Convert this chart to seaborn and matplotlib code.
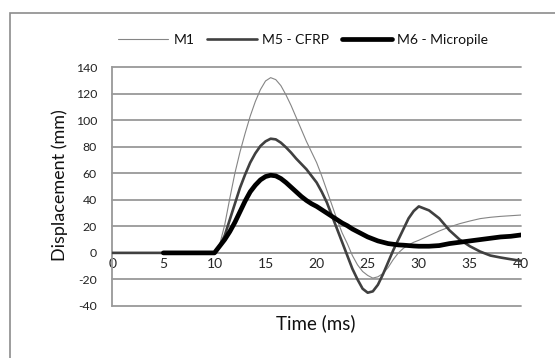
import numpy as np
import pandas as pd
import matplotlib
matplotlib.use("Agg")
import matplotlib.pyplot as plt
import seaborn as sns
from matplotlib.patches import Rectangle

sns.set_style("white")
plt.rcParams['font.family'] = ['Lato', 'DejaVu Sans']

time_ms = [0, 1, 2, 3, 4, 5, 6, 7, 8, 9,
           10, 10.5, 11, 11.5, 12, 12.5, 13, 13.5, 14, 14.5,
           15, 15.5, 16, 16.5, 17, 17.5, 18, 18.5, 19, 19.5,
           20, 20.5, 21, 21.5, 22, 22.5, 23, 23.5, 24, 24.5,
           25, 25.5, 26, 26.5, 27, 27.5, 28, 28.5, 29, 29.5,
           30, 31, 32, 33, 34, 35, 36, 37, 38, 39, 40]
m1 = [0, 0, 0, 0, 0, 0, 0, 0, 0, 0,
      0, 6, 21, 41, 60, 76, 90, 103, 114, 123,
      129.5, 132, 130.5, 126, 119, 111, 102, 93, 84, 76,
      68, 58, 47, 36, 25, 15, 7, -2, -9, -14,
      -17, -19, -18, -15.5, -11, -5, 0, 3.5, 6, 8,
      9.5, 13, 16.5, 19.5, 22, 24, 25.8, 26.8, 27.5, 28, 28.5]
m5 = [0, 0, 0, 0, 0, 0, 0, 0, 0, 0,
      0, 5, 13, 25, 37, 49, 59, 68, 75, 80.5,
      84, 86, 85.5, 83, 79.5, 75.5, 71, 67, 63, 58,
      53, 46, 38, 28, 18, 8, -2, -12, -20, -27,
      -30, -29, -24, -16, -7, 2, 10, 18, 26, 31.5,
      35, 32, 26, 17, 10, 5, 1, -2, -3.5, -4.8, -6]
time_m6 = time_ms[5:]
m6 = [0, 0, 0, 0, 0,
      0, 5, 10, 16, 23, 31, 39, 46, 51, 55,
      57.5, 58.5, 58, 56, 53, 49.5, 46, 42.5, 39.5, 37,
      35, 32.5, 30, 27.5, 25, 22.5, 20.5, 18, 16, 14,
      12, 10.5, 9, 8, 7, 6.5, 6, 5.8, 5.5, 5.2,
      5, 5, 5.5, 7, 8, 9, 10, 11, 12, 12.5, 13.5]

series_names = ["M1", "M5 - CFRP", "M6 - Micropile"]
x_ticks = [0, 5, 10, 15, 20, 25, 30, 35, 40]
y_ticks = [-40, -20, 0, 20, 40, 60, 80, 100, 120, 140]

fig = plt.figure(figsize=(5.55, 3.58), dpi=100)
ax = fig.add_axes([0.2023, 0.1453, 0.9387 - 0.2023, 0.8128 - 0.1453])

grid_c = "#999999"
styles = [("#858585", 0.8), ("#404040", 1.9), ("#000000", 3.4)]
for (t, v, name), (c, lw) in zip(
        [(time_ms, m1, series_names[0]), (time_ms, m5, series_names[1]), (time_m6, m6, series_names[2])],
        styles):
    df = pd.DataFrame({"t": t, "v": v})
    sns.lineplot(data=df, x="t", y="v", ax=ax, color=c, linewidth=lw, label=name, zorder=3)
for ln in ax.get_lines():
    ln.set_solid_joinstyle('round')
    ln.set_solid_capstyle('round')

ax.set_xlim(0, 40)
ax.set_ylim(-40, 140)
ax.set_xticks(x_ticks)
ax.set_yticks(y_ticks)
ax.set_xticklabels([str(x) for x in x_ticks], fontweight='heavy', fontsize=9, color='#111111')
ax.set_yticklabels([str(y) for y in y_ticks], fontsize=8.8, color='#222222')
ax.yaxis.grid(True, color=grid_c, linewidth=1.3)
for gl in ax.get_ygridlines():
    gl.set_clip_on(False)
ax.xaxis.grid(False)

for s in ["top", "right"]:
    ax.spines[s].set_visible(False)
ax.spines["bottom"].set_position(("data", 0))
ax.spines["bottom"].set_color(grid_c)
ax.spines["bottom"].set_linewidth(1.3)
ax.spines["left"].set_color(grid_c)
ax.spines["left"].set_linewidth(1.3)
ax.tick_params(axis='x', length=0, pad=4)
ax.tick_params(axis='y', length=0, pad=11)

ax.set_xlabel("")
ax.set_ylabel("")
fig.text(0.569, 0.098, "Time (ms)", ha='center', va='center', fontsize=13.5, color='#111111')
fig.text(0.108, 0.483, "Displacement (mm)", ha='center', va='center', rotation=90,
         fontsize=13, color='#111111')

leg = ax.legend(loc='center', bbox_to_anchor=(0.546, 0.888), bbox_transform=fig.transFigure,
                ncol=3, frameon=False, fontsize=10, handlelength=3.6, columnspacing=0.9,
                handletextpad=0.4)
for txt in leg.get_texts():
    txt.set_color('#111111')

fig.patches.append(Rectangle((10 / 555, -0.2), 1.2, 0.9637 + 0.2, transform=fig.transFigure,
                             fill=False, edgecolor="#8c8c8c", linewidth=1.2))

fig.savefig("out.png", dpi=100)
